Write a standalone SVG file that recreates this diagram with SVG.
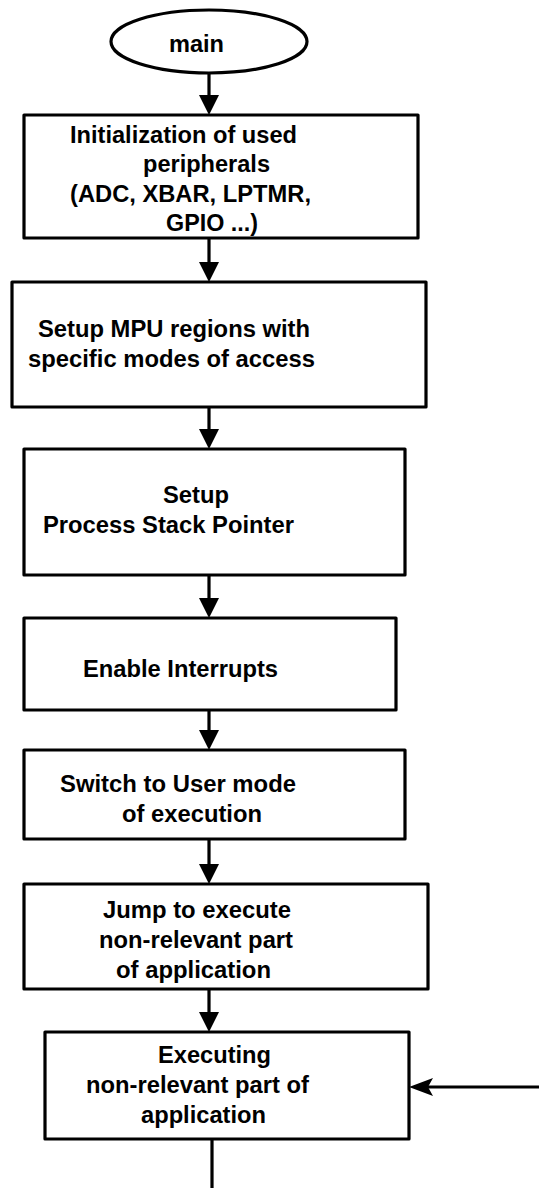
<svg xmlns="http://www.w3.org/2000/svg" width="539" height="1188" viewBox="0 0 539 1188">
<style>
.box{fill:#fff;stroke:#000;stroke-width:3.2;stroke-linejoin:round}
.t{font-family:"Liberation Sans",Arial,sans-serif;font-weight:bold;font-size:23px;fill:#000}
.c{stroke:#000;stroke-width:3.2;fill:none}
</style>
<defs>
<marker id="av" viewBox="0 0 20 20" refX="10" refY="10" markerWidth="20" markerHeight="20" markerUnits="userSpaceOnUse" orient="auto">
<path d="M0,0 L20,10 L0,20 z" fill="#000"/>
</marker>
<marker id="ah" viewBox="0 0 24 18" refX="12" refY="9" markerWidth="24" markerHeight="18" markerUnits="userSpaceOnUse" orient="auto">
<path d="M0,0 L24,9 L0,18 L5,9 z" fill="#000"/>
</marker>
</defs>
<g id="connectors">
<line class="c" x1="209" y1="73" x2="209" y2="105" marker-end="url(#av)"/>
<line class="c" x1="209" y1="238" x2="209" y2="272" marker-end="url(#av)"/>
<line class="c" x1="209" y1="407" x2="209" y2="439" marker-end="url(#av)"/>
<line class="c" x1="209" y1="575" x2="209" y2="608" marker-end="url(#av)"/>
<line class="c" x1="209" y1="710" x2="209" y2="740" marker-end="url(#av)"/>
<line class="c" x1="209" y1="839" x2="209" y2="874" marker-end="url(#av)"/>
<line class="c" x1="209" y1="989" x2="209" y2="1022" marker-end="url(#av)"/>
<line class="c" x1="212" y1="1139" x2="212" y2="1188"/>
<line class="c" x1="539" y1="1087" x2="421" y2="1087" marker-end="url(#ah)"/>
</g>
<g id="main">
<ellipse class="box" cx="209" cy="41.5" rx="98" ry="31.5"/>
<text class="t" x="169" y="52" textLength="55" lengthAdjust="spacingAndGlyphs">main</text>
</g>
<g id="init">
<rect class="box" x="24" y="115" width="394" height="123"/>
<text class="t" x="70" y="143" textLength="227" lengthAdjust="spacingAndGlyphs">Initialization of used</text>
<text class="t" x="143" y="172" textLength="127" lengthAdjust="spacingAndGlyphs">peripherals</text>
<text class="t" x="70" y="202" textLength="241" lengthAdjust="spacingAndGlyphs">(ADC, XBAR, LPTMR,</text>
<text class="t" x="166" y="231" textLength="92" lengthAdjust="spacingAndGlyphs">GPIO ...)</text>
</g>
<g id="mpu">
<rect class="box" x="12" y="282" width="414" height="125"/>
<text class="t" x="38" y="337" textLength="272" lengthAdjust="spacingAndGlyphs">Setup MPU regions with</text>
<text class="t" x="28" y="367" textLength="287" lengthAdjust="spacingAndGlyphs">specific modes of access</text>
</g>
<g id="psp">
<rect class="box" x="24" y="449" width="381" height="126"/>
<text class="t" x="163" y="503" textLength="66" lengthAdjust="spacingAndGlyphs">Setup</text>
<text class="t" x="43" y="533" textLength="251" lengthAdjust="spacingAndGlyphs">Process Stack Pointer</text>
</g>
<g id="irq">
<rect class="box" x="24" y="618" width="372" height="92"/>
<text class="t" x="83" y="677" textLength="195" lengthAdjust="spacingAndGlyphs">Enable Interrupts</text>
</g>
<g id="user">
<rect class="box" x="24" y="750" width="381" height="89"/>
<text class="t" x="60" y="792" textLength="236" lengthAdjust="spacingAndGlyphs">Switch to User mode</text>
<text class="t" x="122" y="822" textLength="140" lengthAdjust="spacingAndGlyphs">of execution</text>
</g>
<g id="jump">
<rect class="box" x="24" y="884" width="404" height="105"/>
<text class="t" x="103" y="918" textLength="188" lengthAdjust="spacingAndGlyphs">Jump to execute</text>
<text class="t" x="99" y="948" textLength="194" lengthAdjust="spacingAndGlyphs">non-relevant part</text>
<text class="t" x="116" y="978" textLength="155" lengthAdjust="spacingAndGlyphs">of application</text>
</g>
<g id="exec">
<rect class="box" x="45" y="1032" width="364" height="107"/>
<text class="t" x="158" y="1063" textLength="113" lengthAdjust="spacingAndGlyphs">Executing</text>
<text class="t" x="86" y="1093" textLength="223" lengthAdjust="spacingAndGlyphs">non-relevant part of</text>
<text class="t" x="141" y="1123" textLength="125" lengthAdjust="spacingAndGlyphs">application</text>
</g>
</svg>
